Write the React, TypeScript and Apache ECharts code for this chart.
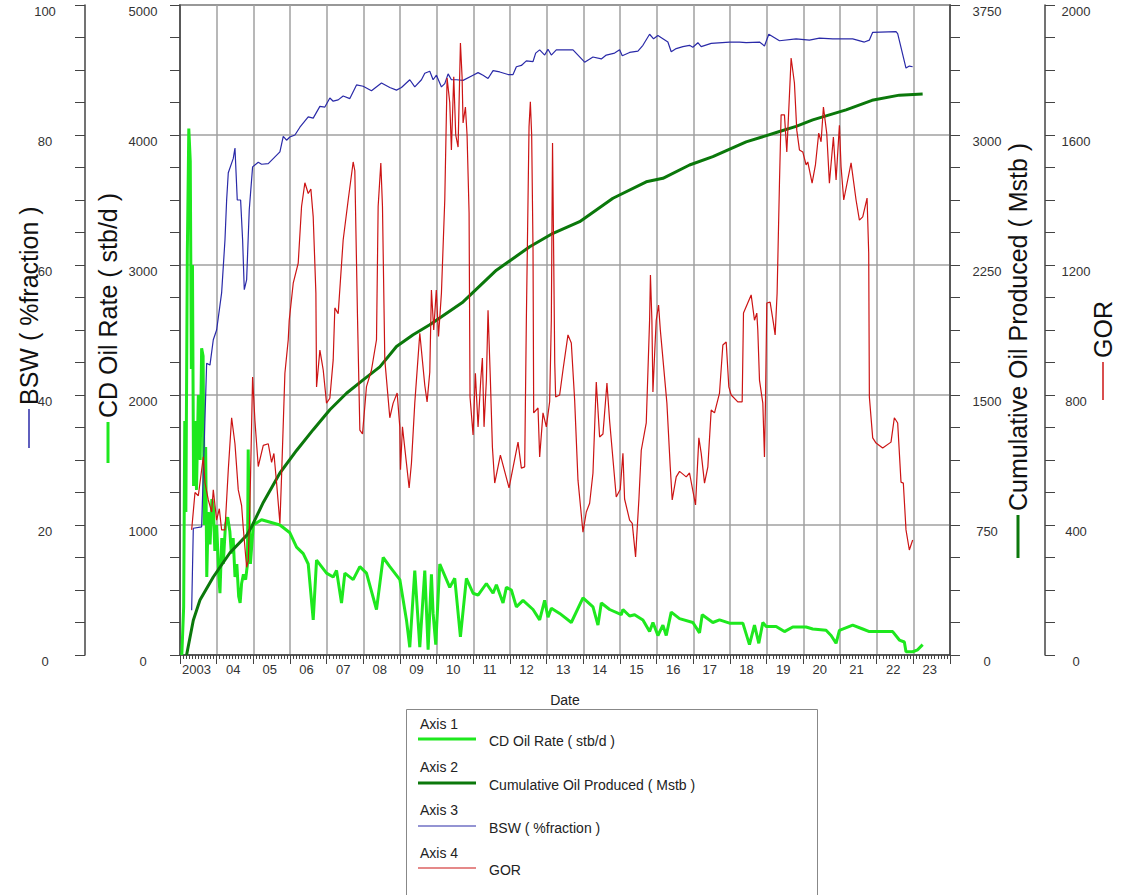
import React, { useEffect, useRef } from 'react';
import * as echarts from 'echarts';

// ---------- DATA (x = decimal year) ----------
const yearTicks = [2003, 2004, 2005, 2006, 2007, 2008, 2009, 2010, 2011, 2012, 2013, 2014, 2015, 2016, 2017, 2018, 2019, 2020, 2021, 2022, 2023];

const cdOilRate: [number, number][] = [
  [2003.05, 0], [2003.10, 370], [2003.13, 1800], [2003.16, 1100], [2003.20, 3100], [2003.24, 4050],
  [2003.28, 3800], [2003.31, 2200], [2003.34, 3000], [2003.37, 1300], [2003.41, 1800], [2003.45, 1270],
  [2003.50, 2000], [2003.55, 1500], [2003.59, 2360], [2003.63, 2300], [2003.66, 1000], [2003.70, 1600],
  [2003.73, 600], [2003.77, 1100], [2003.82, 850], [2003.87, 1200], [2003.91, 1140], [2003.95, 800],
  [2004.00, 1000], [2004.06, 600], [2004.09, 475], [2004.14, 900], [2004.18, 700], [2004.24, 1000],
  [2004.30, 1060], [2004.36, 950], [2004.40, 780], [2004.45, 900], [2004.50, 600], [2004.55, 700],
  [2004.60, 450], [2004.64, 400], [2004.68, 550], [2004.73, 620], [2004.79, 580], [2004.84, 700],
  [2004.86, 1580], [2004.89, 1000], [2004.92, 700], [2004.998, 1000], [2005.225, 1040], [2005.725, 1000],
  [2005.997, 940], [2006.179, 830], [2006.361, 780], [2006.497, 700], [2006.633, 270], [2006.724, 730],
  [2006.996, 630], [2007.178, 600], [2007.269, 650], [2007.405, 400], [2007.496, 630], [2007.723, 580],
  [2007.905, 680], [2008.086, 630], [2008.359, 350], [2008.541, 750], [2008.722, 680], [2008.995, 580],
  [2009.176, 270], [2009.267, 60], [2009.403, 650], [2009.54, 60], [2009.676, 650], [2009.767, 40],
  [2009.857, 620], [2009.903, 320], [2009.975, 80], [2010.085, 700], [2010.357, 520], [2010.493, 590],
  [2010.648, 140], [2010.811, 590], [2010.993, 475], [2011.129, 460], [2011.356, 550], [2011.538, 475],
  [2011.629, 540], [2011.81, 400], [2011.901, 520], [2012.037, 500], [2012.174, 370], [2012.355, 420],
  [2012.628, 350], [2012.809, 270], [2012.945, 420], [2013.036, 290], [2013.127, 360], [2013.354, 320],
  [2013.672, 250], [2013.99, 440], [2014.263, 370], [2014.399, 230], [2014.49, 400], [2014.717, 350],
  [2015.035, 310], [2015.08, 350], [2015.262, 300], [2015.398, 310], [2015.625, 270], [2015.807, 180],
  [2015.898, 250], [2016.034, 150], [2016.17, 230], [2016.261, 150], [2016.397, 330], [2016.624, 280],
  [2016.987, 250], [2017.169, 170], [2017.242, 310], [2017.532, 250], [2017.714, 270], [2017.987, 245],
  [2018.35, 245], [2018.531, 80], [2018.668, 230], [2018.786, 90], [2018.895, 250], [2018.986, 220],
  [2019.258, 220], [2019.485, 180], [2019.712, 215], [2020.075, 215], [2020.257, 200], [2020.62, 190],
  [2020.757, 150], [2020.893, 90], [2020.984, 190], [2021.347, 230], [2021.62, 200], [2021.801, 180],
  [2022.073, 180], [2022.437, 180], [2022.619, 115], [2022.755, 100], [2022.8, 25], [2022.982, 25],
  [2023.118, 40], [2023.254, 80],
];

const cumulativeOil: [number, number][] = [
  [2003.18, 0], [2003.363, 200], [2003.545, 317], [2003.908, 450], [2004.362, 590], [2004.817, 690],
  [2004.953, 740], [2005.271, 880], [2005.725, 1050], [2006.179, 1180], [2006.633, 1300], [2007.087, 1415],
  [2007.541, 1510], [2007.995, 1587], [2008.45, 1662], [2008.904, 1780], [2009.358, 1848], [2009.812, 1905],
  [2010.72, 2037], [2011.629, 2220], [2012.537, 2355], [2013.173, 2433], [2013.899, 2500], [2014.807, 2635],
  [2015.716, 2730], [2016.17, 2750], [2016.896, 2827], [2017.532, 2875], [2018.44, 2960], [2019.349, 3020],
  [2019.803, 3050], [2020.257, 3087], [2021.165, 3145], [2021.874, 3200], [2022.619, 3230], [2023.254, 3237],
];

const bsw: [number, number][] = [
  [2003.318, 6.9], [2003.363, 19.5], [2003.59, 19.7], [2003.727, 44.9], [2003.817, 44.6], [2003.908, 48.5],
  [2003.999, 50], [2004.135, 55.7], [2004.226, 63.8], [2004.272, 70], [2004.317, 74.2], [2004.453, 76.4],
  [2004.499, 78], [2004.562, 70], [2004.653, 70], [2004.708, 63.8], [2004.753, 56.2], [2004.817, 57.7],
  [2004.889, 68.5], [2004.98, 75.1], [2005.134, 75.8], [2005.225, 75.5], [2005.407, 75.6], [2005.725, 77.4],
  [2005.816, 79.8], [2005.906, 79.2], [2005.997, 79.7], [2006.134, 80], [2006.27, 81.2], [2006.497, 82.8],
  [2006.633, 82.6], [2006.815, 84.4], [2006.951, 84.3], [2007.087, 85.7], [2007.178, 85.2], [2007.314, 85.4],
  [2007.45, 86], [2007.632, 85.6], [2007.814, 87.7], [2007.995, 87.5], [2008.222, 86.8], [2008.495, 88],
  [2008.722, 87.3], [2008.904, 86.9], [2009.04, 87.3], [2009.267, 88.5], [2009.403, 87.4], [2009.585, 88.5],
  [2009.676, 89.5], [2009.812, 89.8], [2009.903, 88.5], [2009.994, 89.2], [2010.13, 87.4], [2010.221, 87.9],
  [2010.312, 89.4], [2010.402, 88.5], [2010.539, 88.5], [2010.72, 88.4], [2010.993, 89.2], [2011.129, 89.6],
  [2011.265, 89.2], [2011.401, 88.7], [2011.538, 89.9], [2011.72, 89.7], [2011.946, 89.3], [2012.083, 89.3],
  [2012.174, 90.5], [2012.31, 90.7], [2012.446, 91.4], [2012.628, 91.3], [2012.7, 92.6], [2012.809, 93.1],
  [2012.946, 92.3], [2013.036, 93.2], [2013.127, 92.3], [2013.263, 93.1], [2013.718, 93.1], [2014.036, 91.2],
  [2014.263, 92], [2014.49, 91.7], [2014.626, 92.3], [2014.853, 92.6], [2014.989, 93.1], [2015.062, 92.2],
  [2015.262, 92.7], [2015.489, 92.9], [2015.625, 93.8], [2015.807, 95.5], [2015.916, 94.8], [2016.034, 95.3],
  [2016.17, 94.8], [2016.306, 94.3], [2016.397, 92.8], [2016.533, 93.3], [2016.715, 93.6], [2016.896, 93.8],
  [2016.987, 93.5], [2017.124, 94.2], [2017.214, 93.6], [2017.487, 94.1], [2017.987, 94.3], [2018.259, 94.3],
  [2018.441, 94.2], [2018.804, 94.3], [2018.94, 93.7], [2019.058, 95.5], [2019.349, 94.5], [2019.803, 94.8],
  [2020.166, 94.6], [2020.439, 94.9], [2020.802, 94.8], [2020.984, 94.8], [2021.347, 94.8], [2021.665, 94.3],
  [2021.801, 94.6], [2021.892, 95.8], [2022.528, 95.9], [2022.573, 95.6], [2022.8, 90.3], [2022.891, 90.6],
  [2022.982, 90.5],
];

const gor: [number, number][] = [
  [2003.318, 385], [2003.409, 500], [2003.50, 490], [2003.636, 610], [2003.681, 530], [2003.772, 477],
  [2003.863, 440], [2003.908, 508], [2003.999, 415], [2004.072, 450], [2004.135, 385], [2004.226, 385],
  [2004.317, 570], [2004.408, 730], [2004.499, 650], [2004.589, 508], [2004.68, 460], [2004.726, 390],
  [2004.817, 270], [2004.862, 290], [2004.907, 460], [2004.98, 855], [2005.044, 720], [2005.134, 580],
  [2005.271, 645], [2005.407, 650], [2005.498, 593], [2005.561, 620], [2005.634, 530], [2005.725, 405],
  [2005.77, 550], [2005.861, 867], [2005.952, 970], [2005.979, 1030], [2006.088, 1144], [2006.224, 1206],
  [2006.315, 1380], [2006.406, 1453], [2006.497, 1420], [2006.569, 1434], [2006.633, 1348], [2006.706, 1113],
  [2006.724, 825], [2006.815, 938], [2006.86, 908], [2006.906, 877], [2006.996, 775], [2007.087, 790],
  [2007.178, 908], [2007.223, 1068], [2007.314, 1050], [2007.45, 1277], [2007.587, 1400], [2007.723, 1517],
  [2007.768, 1490], [2007.841, 1040], [2007.905, 692], [2007.977, 680], [2008.086, 826], [2008.222, 877],
  [2008.359, 970], [2008.404, 1380], [2008.477, 1514], [2008.522, 1380], [2008.586, 908], [2008.722, 730],
  [2008.813, 775], [2008.922, 806], [2008.995, 702], [2009.013, 570], [2009.067, 702], [2009.176, 590],
  [2009.249, 514], [2009.312, 590], [2009.403, 775], [2009.54, 990], [2009.676, 830], [2009.739, 779],
  [2009.812, 870], [2009.857, 1123], [2009.92, 1000], [2009.99, 1123], [2010.05, 980], [2010.13, 1114],
  [2010.221, 1400], [2010.284, 1775], [2010.357, 1700], [2010.402, 1554], [2010.466, 1779], [2010.52, 1600],
  [2010.584, 1563], [2010.648, 1883], [2010.693, 1779], [2010.72, 1637], [2010.784, 1686], [2010.829, 1600],
  [2010.884, 1360], [2010.91, 794], [2010.993, 677], [2011.056, 867], [2011.129, 702], [2011.202, 846],
  [2011.247, 914], [2011.292, 702], [2011.356, 846], [2011.401, 1061], [2011.465, 846], [2011.52, 640],
  [2011.583, 529], [2011.738, 615], [2011.974, 514], [2012.219, 655], [2012.31, 575], [2012.40, 579],
  [2012.446, 1030], [2012.519, 1625], [2012.555, 1702], [2012.591, 1600], [2012.628, 1246], [2012.646, 745],
  [2012.764, 760], [2012.809, 609], [2012.9, 745], [2012.991, 702], [2013.082, 780], [2013.127, 1030],
  [2013.16, 1575], [2013.19, 1246], [2013.22, 900], [2013.245, 794], [2013.354, 800], [2013.445, 877],
  [2013.581, 985], [2013.672, 960], [2013.763, 785], [2013.854, 538], [2013.99, 378], [2014.081, 440],
  [2014.172, 467], [2014.263, 560], [2014.353, 840], [2014.444, 671], [2014.535, 680], [2014.644, 837],
  [2014.717, 720], [2014.898, 486], [2015.007, 510], [2015.08, 621], [2015.125, 480], [2015.262, 415],
  [2015.334, 405], [2015.425, 302], [2015.516, 480], [2015.58, 630], [2015.716, 714], [2015.761, 870],
  [2015.807, 1030], [2015.83, 1169], [2015.87, 1030], [2015.898, 809], [2015.95, 940], [2015.988, 1030],
  [2016.052, 1077], [2016.1, 1000], [2016.125, 969], [2016.279, 775], [2016.37, 579], [2016.424, 477],
  [2016.533, 548], [2016.624, 565], [2016.806, 548], [2016.896, 560], [2017.06, 462], [2017.151, 668],
  [2017.214, 621], [2017.305, 529], [2017.396, 579], [2017.487, 754], [2017.578, 745], [2017.714, 806],
  [2017.805, 954], [2017.896, 963], [2017.968, 825], [2018.032, 800], [2018.213, 779], [2018.332, 779],
  [2018.368, 1052], [2018.577, 1108], [2018.668, 1030], [2018.731, 1052], [2018.758, 1000], [2018.804, 846],
  [2018.895, 775], [2018.94, 609], [2018.967, 775], [2019.004, 1083], [2019.094, 1086], [2019.185, 1021],
  [2019.231, 985], [2019.285, 1114], [2019.349, 1452], [2019.394, 1662], [2019.485, 1662], [2019.549, 1548],
  [2019.594, 1655], [2019.667, 1837], [2019.757, 1760], [2019.821, 1615], [2019.894, 1554], [2019.985, 1548],
  [2020.075, 1508], [2020.121, 1517], [2020.239, 1452], [2020.33, 1508], [2020.42, 1606], [2020.484, 1579],
  [2020.548, 1686], [2020.638, 1606], [2020.711, 1452], [2020.82, 1594], [2020.893, 1462], [2020.984, 1630],
  [2021.029, 1502], [2021.102, 1400], [2021.302, 1514], [2021.438, 1400], [2021.529, 1338], [2021.62, 1348],
  [2021.738, 1406], [2021.783, 1237], [2021.801, 794], [2021.892, 668], [2021.983, 652], [2022.164, 637],
  [2022.391, 655], [2022.482, 730], [2022.573, 714], [2022.664, 532], [2022.727, 529], [2022.8, 385],
  [2022.891, 323], [2022.982, 354],
];

const seriesNames = ['CD Oil Rate ( stb/d )', 'Cumulative Oil Produced ( Mstb )', 'BSW ( %fraction )', 'GOR'];
const axisHeaders = ['Axis 1', 'Axis 2', 'Axis 3', 'Axis 4'];

// ---------- STYLE ----------
const C_RATE = '#1ee81e';
const C_CUM = '#0b780b';
const C_BSW = '#2a2aa8';
const C_GOR = '#cc1414';
const FONT = '"Liberation Sans", Arial, sans-serif';
const GRID_COLOR = '#a0a0a0';
const AXIS_COLOR = '#444';
const LABEL_COLOR = '#333';

function yAxisBase(pos: 'left' | 'right', offset: number, max: number, interval: number, margin: number, split: boolean) {
  return {
    type: 'value',
    position: pos,
    offset,
    min: 0,
    max,
    interval,
    axisLine: { show: true, onZero: false, lineStyle: { color: AXIS_COLOR, width: 1.5 } },
    axisTick: { show: true, inside: false, length: 10, lineStyle: { color: AXIS_COLOR, width: 1 } },
    minorTick: { show: true, splitNumber: 4, length: 10, lineStyle: { color: AXIS_COLOR, width: 1 } },
    axisLabel: {
      margin,
      align: 'center',
      verticalAlign: 'top',
      color: LABEL_COLOR,
      fontSize: 13,
      fontFamily: FONT,
      formatter: (v: number) => String(v),
    },
    splitLine: split ? { show: true, lineStyle: { color: GRID_COLOR, width: 1.5 } } : { show: false },
    minorSplitLine: { show: false },
  };
}

export default function App() {
  const ref = useRef<HTMLDivElement>(null);

  useEffect(() => {
    if (!ref.current) return;
    const chart = echarts.init(ref.current, undefined, { renderer: 'svg' });

    const legendGraphics: any[] = [
      {
        type: 'rect',
        shape: { x: 406.5, y: 709.5, width: 411, height: 200 },
        style: { fill: '#fff', stroke: '#888', lineWidth: 1 },
        z: 10,
      },
    ];
    const legendColors = [C_RATE, C_CUM, C_BSW, C_GOR];
    const legendWidths = [3, 3, 1.2, 1.2];
    const headerY = [724, 767, 810, 853];
    const lineY = [739, 783, 826, 868];
    for (let i = 0; i < 4; i++) {
      legendGraphics.push({
        type: 'text',
        x: 420,
        y: headerY[i],
        z: 11,
        style: { text: axisHeaders[i], fill: '#222', fontSize: 14, fontFamily: FONT, align: 'left', verticalAlign: 'middle' },
      });
      legendGraphics.push({
        type: 'line',
        z: 11,
        shape: { x1: 418, y1: lineY[i], x2: 476, y2: lineY[i] },
        style: { stroke: legendColors[i], lineWidth: legendWidths[i] },
      });
      legendGraphics.push({
        type: 'text',
        x: 489,
        y: lineY[i] + 2,
        z: 11,
        style: { text: seriesNames[i], fill: '#222', fontSize: 14, fontFamily: FONT, align: 'left', verticalAlign: 'middle' },
      });
    }

    const titleDefs = [
      { text: seriesNames[2], x: 29, lineTop: 409, lineBottom: 448, color: C_BSW, w: 1.5 },
      { text: seriesNames[0], x: 108, lineTop: 422, lineBottom: 463, color: C_RATE, w: 3 },
      { text: seriesNames[1], x: 1018, lineTop: 515, lineBottom: 558, color: C_CUM, w: 3 },
      { text: seriesNames[3], x: 1103, lineTop: 362, lineBottom: 400, color: C_GOR, w: 1.5 },
    ];
    const titleGraphics: any[] = [];
    titleDefs.forEach((t) => {
      titleGraphics.push({
        type: 'line',
        shape: { x1: t.x, y1: t.lineTop, x2: t.x, y2: t.lineBottom },
        style: { stroke: t.color, lineWidth: t.w },
      });
      titleGraphics.push({
        type: 'text',
        x: t.x,
        y: t.lineTop - 4,
        rotation: Math.PI / 2,
        style: { text: t.text, fill: '#111', fontSize: 25, fontFamily: FONT, align: 'left', verticalAlign: 'middle' },
      });
    });

    const option: any = {
      animation: false,
      backgroundColor: '#fff',
      grid: {
        left: 180,
        right: 176,
        top: 5,
        bottom: 240,
        show: true,
        borderColor: '#555',
        borderWidth: 1.5,
        backgroundColor: 'transparent',
      },
      xAxis: {
        type: 'value',
        min: yearTicks[0],
        max: yearTicks[yearTicks.length - 1] + 1,
        interval: 1,
        name: 'Date',
        nameLocation: 'middle',
        nameGap: 38,
        nameTextStyle: { color: '#222', fontSize: 14, fontFamily: FONT },
        axisLine: { show: true, onZero: false, lineStyle: { color: AXIS_COLOR, width: 1.5 } },
        axisTick: { show: true, length: 9, lineStyle: { color: AXIS_COLOR } },
        minorTick: { show: true, splitNumber: 12, length: 4, lineStyle: { color: AXIS_COLOR } },
        axisLabel: {
          showMaxLabel: false,
          margin: 8,
          color: LABEL_COLOR,
          fontSize: 13,
          fontFamily: FONT,
          padding: [0, 0, 0, 33],
          formatter: (v: number) => {
            const y = Math.round(v);
            if (y === yearTicks[0]) return String(y);
            if (yearTicks.indexOf(y) < 0) return '';
            return String(y % 100).padStart(2, '0');
          },
        },
        splitLine: { show: true, lineStyle: { color: GRID_COLOR, width: 1.5 } },
        minorSplitLine: { show: false },
      },
      yAxis: [
        yAxisBase('left', 0, 5000, 1000, 37, true),
        yAxisBase('right', 0, 3750, 750, 37, false),
        yAxisBase('left', 95, 100, 20, 40, false),
        yAxisBase('right', 95, 2000, 400, 31, false),
      ],
      series: [
        {
          name: seriesNames[0], type: 'line', yAxisIndex: 0, data: cdOilRate, showSymbol: false,
          lineStyle: { color: C_RATE, width: 3 }, itemStyle: { color: C_RATE }, z: 2,
        },
        {
          name: seriesNames[1], type: 'line', yAxisIndex: 1, data: cumulativeOil, showSymbol: false,
          lineStyle: { color: C_CUM, width: 3 }, itemStyle: { color: C_CUM }, z: 3,
        },
        {
          name: seriesNames[2], type: 'line', yAxisIndex: 2, data: bsw, showSymbol: false,
          lineStyle: { color: C_BSW, width: 1.2 }, itemStyle: { color: C_BSW }, z: 4,
        },
        {
          name: seriesNames[3], type: 'line', yAxisIndex: 3, data: gor, showSymbol: false,
          lineStyle: { color: C_GOR, width: 1.2 }, itemStyle: { color: C_GOR }, z: 5,
        },
      ],
      graphic: [...titleGraphics, ...legendGraphics],
    };

    chart.setOption(option);
    return () => chart.dispose();
  }, []);

  return (
    <div
      ref={ref}
      style={{ position: 'absolute', left: 0, top: 0, width: 1126, height: 895, background: '#fff' }}
    />
  );
}
